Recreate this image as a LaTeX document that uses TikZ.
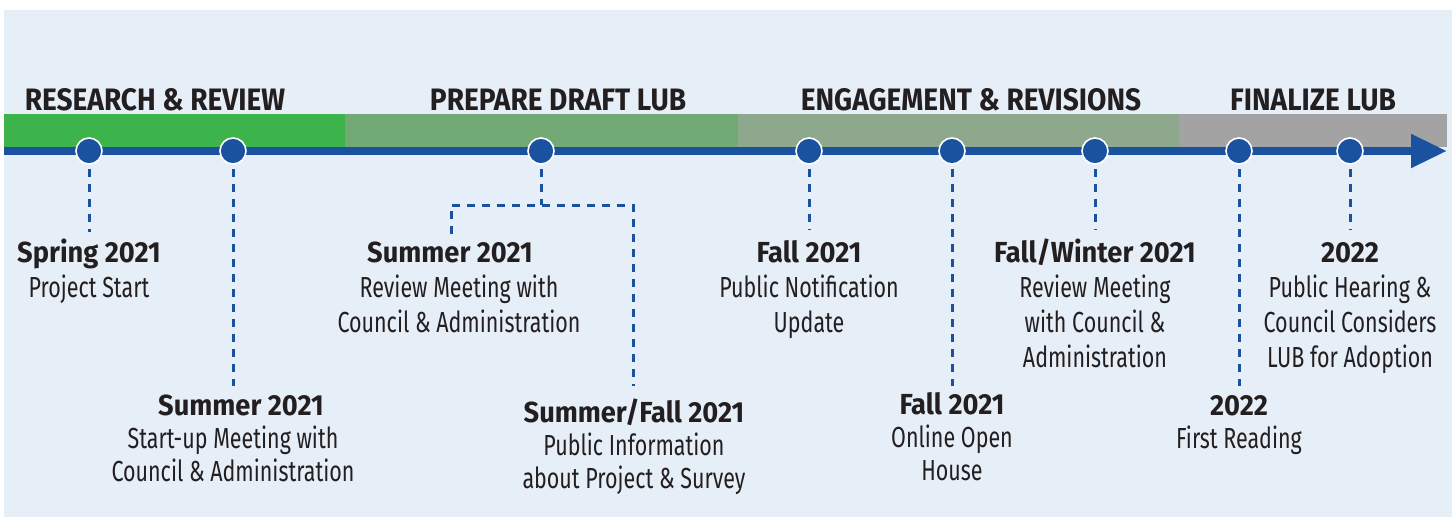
\documentclass[tikz,border=0pt]{standalone}
\usepackage{fontspec}
\setmainfont{Fira Sans}[FakeStretch=0.74]
\newfontfamily\datefont{Fira Sans}[FakeStretch=0.94]
\newfontfamily\phasefont{Fira Sans}[FakeStretch=0.905]
\usetikzlibrary{arrows.meta}
\definecolor{bgc}{HTML}{E6EEF8}
\definecolor{lineblue}{HTML}{1A52A0}
\definecolor{barA}{HTML}{3CB44B}
\definecolor{barB}{HTML}{72AA75}
\definecolor{barC}{HTML}{8EA88E}
\definecolor{barD}{HTML}{A3A3A3}
\definecolor{txt}{HTML}{231F20}
\tikzset{
  dot/.style={circle, fill=lineblue, draw=white, line width=1.6pt, minimum size=26pt, inner sep=0pt},
  dashline/.style={lineblue, line width=3pt, dash pattern=on 8pt off 7pt, shorten <=4pt},
  phase/.style={anchor=base, text=txt, font=\phasefont\fontsize{31}{31}\selectfont\bfseries, inner sep=0pt},
  evtop/.style={anchor=base, align=center, text=txt, inner sep=0pt, font=\fontsize{29}{35}\selectfont},
  evbot/.style={anchor=base, align=center, text=txt, inner sep=0pt, font=\fontsize{29}{33}\selectfont},
}
\newcommand{\dt}[1]{{\datefont\bfseries #1}}
\begin{document}
\begin{tikzpicture}[x=1pt,y=-1pt]
\useasboundingbox (0,0) rectangle (1452,517);
\fill[bgc] (4,10) rectangle (1452,517);
% phase bars
\fill[barA] (4,114) rectangle (345,147);
\fill[barB] (345,114) rectangle (738,147);
\fill[barC] (738,114) rectangle (1179,147);
\fill[barD] (1179,114) rectangle (1447,147);
% phase labels
\node[phase] (p1) at (155,110) {RESEARCH \& REVIEW};
\node[phase] (p2) at (558,110) {PREPARE DRAFT LUB};
\node[phase] (p3) at (971,110) {ENGAGEMENT \& REVISIONS};
\node[phase] (p4) at (1313,110) {FINALIZE LUB};
% axis
\coordinate (a0) at (4,151);
\coordinate (a1) at (1447,151);
\draw[lineblue, line width=8pt, -{Triangle[length=36pt,width=32pt]}] (a0) -- (a1);
% milestone dots
\node[dot] (c1) at (89,151) {};
\node[dot] (c2) at (233,151) {};
\node[dot] (c3) at (541,151) {};
\node[dot] (c4) at (809,151) {};
\node[dot] (c5) at (952,151) {};
\node[dot] (c6) at (1095,151) {};
\node[dot] (c7) at (1239,151) {};
\node[dot] (c8) at (1350,151) {};
% leader end points
\coordinate (e1) at (89,232);
\coordinate (e2) at (233,386);
\coordinate (k3) at (541,205);
\coordinate (kl) at (451,205);
\coordinate (kr) at (633,205);
\coordinate (e3a) at (451,234);
\coordinate (e3b) at (633,386);
\coordinate (e4) at (809,230);
\coordinate (e5) at (952,386);
\coordinate (e6) at (1095,230);
\coordinate (e7) at (1239,386);
\coordinate (e8) at (1350,230);
% leaders
\draw[dashline] (c1.south) -- (e1);
\draw[dashline] (c2.south) -- (e2);
\draw[dashline] (c3.south) -- (k3);
\draw[dashline, shorten <=0pt] (e3a) -- (kl) -- (kr) -- (e3b);
\draw[dashline] (c4.south) -- (e4);
\draw[dashline] (c5.south) -- (e5);
\draw[dashline] (c6.south) -- (e6);
\draw[dashline] (c7.south) -- (e7);
\draw[dashline] (c8.south) -- (e8);
% labels (anchor = baseline of last line)
\node[evtop] (t1) at (89,297) {\dt{Spring 2021}\\Project Start};
\node[evbot] (t2) at (233,481) {\hspace*{16pt}\dt{Summer 2021}\\Start-up Meeting with\\Council \& Administration};
\node[evtop] (t3) at (459,332) {\dt{Summer 2021}\hspace*{18pt}\\Review Meeting with\\Council \& Administration};
\node[evbot] (t4) at (634,488) {\dt{Summer/Fall 2021}\\Public Information\\about Project \& Survey};
\node[evtop] (t5) at (809,332) {\dt{Fall 2021}\\Public Notification\\Update};
\node[evbot] (t6) at (952,480) {\dt{Fall 2021}\\Online Open\\House};
\node[evtop] (t7) at (1095,367) {\dt{Fall/Winter 2021}\\Review Meeting\\with Council \&\\Administration};
\node[evbot] (t8) at (1239,448) {\dt{2022}\\First Reading};
\node[evtop] (t9) at (1350,367) {\dt{2022}\\Public Hearing \&\\Council Considers\\LUB for Adoption};
\end{tikzpicture}
\end{document}
